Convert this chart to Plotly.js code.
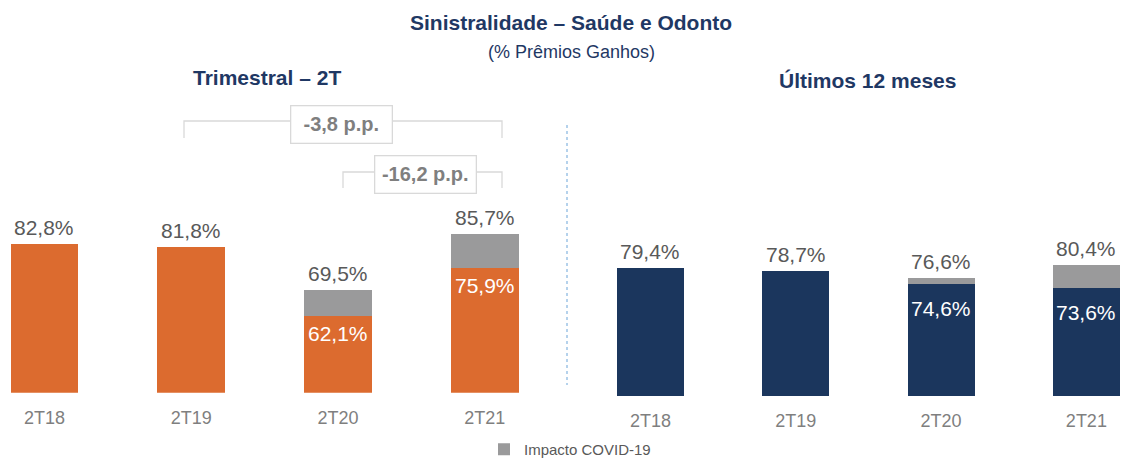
<!DOCTYPE html>
<html>
<head>
<meta charset="utf-8">
<script src="https://cdn.plot.ly/plotly-3.0.1.min.js"></script>
<style>html,body{margin:0;padding:0;background:#fff;}#chart{width:1123px;height:461px;}</style>
</head>
<body>
<div id="chart"></div>
<script>
// ---- data ----
const quarters = ['2T18', '2T19', '2T20', '2T21'];
const trimBase = [82.8, 81.8, 62.1, 75.9];     // Trimestral – sem impacto COVID
const trimTotal = [82.8, 81.8, 69.5, 85.7];    // Trimestral – total
const ltmBase = [79.4, 78.7, 74.6, 73.6];      // Últimos 12 meses – sem impacto COVID
const ltmTotal = [79.4, 78.7, 76.6, 80.4];     // Últimos 12 meses – total
const deltaLabels = ['-3,8 p.p.', '-16,2 p.p.'];

// ---- styling ----
const W = 1123, H = 461;
const ORANGE = '#DC6B2F', NAVY = '#1B365D', GREY = '#9A9A9B';
const NAVY_TXT = '#1F3864', LBL = '#595959', TICK = '#7F7F7F';
const FONT = 'Liberation Sans, Arial, sans-serif';
const px = v => v / W;            // x pixel -> paper
const py = v => 1 - v / H;        // y pixel -> paper
const fmt = v => v.toFixed(1).replace('.', ',') + '%';
const diff = (a, b) => a.map((v, i) => +(v - b[i]).toFixed(1));

const trimCovid = diff(trimTotal, trimBase);
const ltmCovid = diff(ltmTotal, ltmBase);

const traces = [
  {type: 'bar', x: quarters, y: trimBase, xaxis: 'x', yaxis: 'y', width: 0.463,
   marker: {color: ORANGE}, showlegend: false, hoverinfo: 'skip'},
  {type: 'bar', x: quarters, y: trimCovid, xaxis: 'x', yaxis: 'y', width: 0.463,
   marker: {color: GREY}, name: 'Impacto COVID-19', showlegend: true, hoverinfo: 'skip'},
  {type: 'bar', x: quarters, y: ltmBase, xaxis: 'x2', yaxis: 'y2', width: 0.461,
   marker: {color: NAVY}, showlegend: false, hoverinfo: 'skip'},
  {type: 'bar', x: quarters, y: ltmCovid, xaxis: 'x2', yaxis: 'y2', width: 0.461,
   marker: {color: GREY}, showlegend: false, hoverinfo: 'skip'}
];

const annotations = [];
function addLabels(base, total, covid, xr, yr, topShift, inShift) {
  quarters.forEach((q, i) => {
    annotations.push({x: q, y: total[i], xref: xr, yref: yr, text: fmt(total[i]),
      showarrow: false, xanchor: 'center', yanchor: 'bottom', yshift: topShift,
      font: {family: FONT, size: 21, color: LBL}});
    if (covid[i] > 0) {
      annotations.push({x: q, y: base[i], xref: xr, yref: yr, text: fmt(base[i]),
        showarrow: false, xanchor: 'center', yanchor: 'top', yshift: inShift,
        font: {family: FONT, size: 21, color: '#FFFFFF'}});
    }
  });
}
addLabels(trimBase, trimTotal, trimCovid, 'x', 'y', 3, -4);
addLabels(ltmBase, ltmTotal, ltmCovid, 'x2', 'y2', 3, -11);

function txt(x, y, text, size, color, extra) {
  return Object.assign({x: px(x), y: py(y), xref: 'paper', yref: 'paper', text: text,
    showarrow: false, xanchor: 'center', yanchor: 'middle',
    font: {family: FONT, size: size, color: color}}, extra || {});
}
const boxStyle = {width: 100, height: 36, bgcolor: '#FFFFFF', bordercolor: '#D9D9D9', borderwidth: 1.3, borderpad: 0};

// titles
annotations.push(
  txt(571, 22, '<b>Sinistralidade – Saúde e Odonto</b>', 21, NAVY_TXT),
  txt(571, 52, '(% Prêmios Ganhos)', 18, NAVY_TXT),
  txt(267, 77, '<b>Trimestral – 2T</b>', 21, NAVY_TXT),
  txt(867, 80, '<b>Últimos 12 meses</b>', 21, NAVY_TXT),
  txt(341, 124, '<b>' + deltaLabels[0] + '</b>', 20, TICK, boxStyle),
  txt(425, 175, '<b>' + deltaLabels[1] + '</b>', 20, TICK, boxStyle)
);

const ln = {color: '#D9D9D9', width: 1.3};
const shapes = [
  // bracket -3,8 p.p.
  {type: 'path', xref: 'paper', yref: 'paper', line: ln,
   path: `M ${px(184)} ${py(138)} L ${px(184)} ${py(121)} L ${px(502)} ${py(121)} L ${px(502)} ${py(138)}`},
  // bracket -16,2 p.p.
  {type: 'path', xref: 'paper', yref: 'paper', line: ln,
   path: `M ${px(343)} ${py(188)} L ${px(343)} ${py(172)} L ${px(502)} ${py(172)} L ${px(502)} ${py(188)}`},
  // separator
  {type: 'line', xref: 'paper', yref: 'paper', x0: px(567), x1: px(567), y0: py(125), y1: py(385),
   line: {color: '#9DC3E6', width: 1.5, dash: 'dot'}}
];

const xCommon = {type: 'category', showgrid: false, zeroline: false, showline: false, ticks: '',
  tickfont: {family: FONT, size: 18, color: TICK}, ticklabelstandoff: 12, fixedrange: true};
const yCommon = {visible: false, showgrid: false, zeroline: false, fixedrange: true};

const layout = {
  width: W, height: H, margin: {l: 0, r: 0, t: 0, b: 0, autoexpand: false},
  paper_bgcolor: '#FFFFFF', plot_bgcolor: '#FFFFFF',
  barmode: 'stack', separators: ',.',
  font: {family: FONT},
  xaxis: Object.assign({}, xCommon, {domain: [0, px(560)], range: [-0.303, 3.512], anchor: 'y'}),
  yaxis: Object.assign({}, yCommon, {domain: [py(392.7), py(184.2)], range: [40, 100], anchor: 'x'}),
  xaxis2: Object.assign({}, xCommon, {domain: [px(580), 1], range: [-0.485, 3.252], anchor: 'y2'}),
  yaxis2: Object.assign({}, yCommon, {domain: [py(396), py(199.6)], range: [41.2, 100], anchor: 'x2'}),
  showlegend: true,
  legend: {orientation: 'h', x: px(484), y: -5 / H, xanchor: 'left', yanchor: 'bottom',
    font: {family: FONT, size: 15, color: LBL}, bgcolor: 'rgba(0,0,0,0)'},
  annotations: annotations,
  shapes: shapes
};

Plotly.newPlot('chart', traces, layout, {displayModeBar: false, staticPlot: true});
</script>
</body>
</html>
